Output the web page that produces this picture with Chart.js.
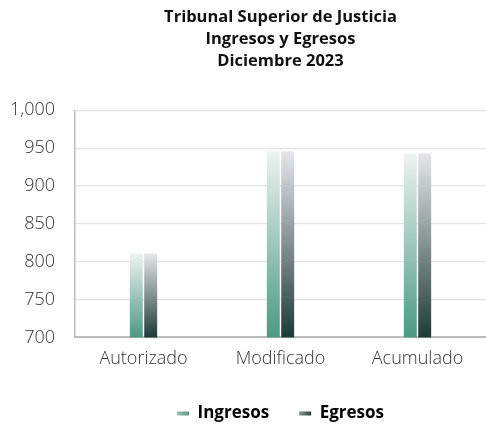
<!DOCTYPE html>
<html>
<head>
<meta charset="utf-8">
<script src="https://cdn.jsdelivr.net/npm/chart.js@4"></script>
<style>
  html, body { margin: 0; padding: 0; background: #fff; }
  #wrap { width: 486px; height: 426px; }
</style>
</head>
<body>
<div id="wrap"><canvas id="tsjChart"></canvas></div>
<script>
// datos
const categorias = ['Autorizado', 'Modificado', 'Acumulado'];
const ingresos = [811, 946, 943];
const egresos = [811, 946, 943];
const yTicks = [700, 750, 800, 850, 900, 950, 1000];

// gradient for each bar, from the base of the axis up to the top of the bar
function barGradient(ctx, bottomColor, topColor) {
    const chart = ctx.chart;
    const y = chart.scales.y;
    if (!y || ctx.raw === undefined) return bottomColor;
    const top = y.getPixelForValue(ctx.raw);
    const base = y.getPixelForValue(y.min);
    const g = chart.ctx.createLinearGradient(0, base, 0, top);
    g.addColorStop(0, bottomColor);
    g.addColorStop(1, topColor);
    return g;
}

function legendGradient(c, x0, x1, left, right) {
    const g = c.createLinearGradient(x0, 0, x1, 0);
    g.addColorStop(0, left);
    g.addColorStop(1, right);
    return g;
}

function initChart() {
    const canvas = document.getElementById('tsjChart');
    const ctx = canvas.getContext('2d');
    const fam = '"Open Sans", "Noto Sans", sans-serif';

    return new Chart(ctx, {
        type: 'bar',
        data: {
            labels: categorias,
            datasets: [{
                label: 'Ingresos',
                data: ingresos,
                backgroundColor: c => barGradient(c, '#4a9a82', '#eef3f1'),
                borderWidth: 0
            }, {
                label: 'Egresos',
                data: egresos,
                backgroundColor: c => barGradient(c, '#1e3b36', '#e6e6e9'),
                borderWidth: 0
            }]
        },
        options: {
            responsive: true,
            maintainAspectRatio: false,
            animation: false,
            categoryPercentage: 0.21,
            barPercentage: 0.9,
            layout: { padding: { left: 0, right: 0, top: 6, bottom: 0 } },
            scales: {
                y: {
                    min: 700,
                    max: 1000,
                    afterBuildTicks: axis => { axis.ticks = yTicks.map(v => ({ value: v })); },
                    afterFit: axis => { axis.width = 75; },
                    border: { display: true, color: '#bdbdbd', width: 1.5 },
                    grid: { color: '#e3e3e3', lineWidth: 1.2, drawTicks: false },
                    ticks: {
                        padding: 20,
                        color: '#333',
                        font: { family: fam, size: 18, weight: '300' },
                        callback: v => v.toLocaleString('en-US')
                    }
                },
                x: {
                    afterFit: axis => { axis.height += 2; },
                    border: { display: true, color: '#bdbdbd', width: 2 },
                    grid: { display: false },
                    ticks: {
                        padding: 3,
                        color: '#333',
                        font: { family: fam, size: 18, weight: '300' }
                    }
                }
            },
            plugins: {
                title: {
                    display: true,
                    fullSize: false,
                    text: ['Tribunal Superior de Justicia', 'Ingresos y Egresos', 'Diciembre 2023'],
                    color: '#111',
                    font: { family: fam, size: 16.5, weight: 'bold', lineHeight: 1.34 },
                    padding: { top: 0, bottom: 38 }
                },
                legend: {
                    display: true,
                    position: 'bottom',
                    fullSize: false,
                    labels: {
                        color: '#1a1a1a',
                        font: { family: fam, size: 17, weight: 'bold' },
                        boxWidth: 12,
                        boxHeight: 4,
                        padding: 30,
                        generateLabels: chart => {
                            const c = chart.ctx;
                            return [
                                { text: 'Ingresos', datasetIndex: 0, lineWidth: 0, strokeStyle: 'transparent',
                                  fillStyle: legendGradient(c, 172, 194, '#b5d1c6', '#3f8a73') },
                                { text: 'Egresos', datasetIndex: 1, lineWidth: 0, strokeStyle: 'transparent',
                                  fillStyle: legendGradient(c, 292, 312, '#c9c9cb', '#1e3b36') }
                            ];
                        }
                    }
                },
                tooltip: { enabled: false }
            }
        },
        plugins: [{
            id: 'legendGap',
            beforeInit(chart) {
                const orig = chart.legend ? chart.legend.fit : null;
                if (!orig) return;
                chart.legend.fit = function () {
                    orig.call(chart.legend);
                    this.height -= 6;
                };
            }
        }]
    });
}

initChart();
</script>
</body>
</html>
